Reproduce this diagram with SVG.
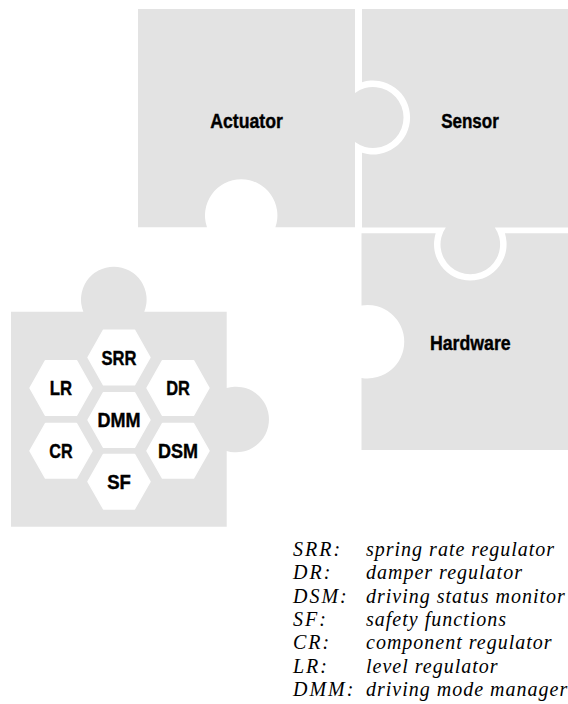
<svg xmlns="http://www.w3.org/2000/svg" width="568" height="704" viewBox="0 0 568 704">
  <defs>
    <style>
      .piece { fill: #e3e3e3; }
      .hex { fill: #ffffff; stroke: #ffffff; stroke-width: 1.5; stroke-linejoin: round; }
      .plabel { font-family: "Liberation Sans", Arial, sans-serif; font-weight: bold; font-size: 21px; fill: #000; stroke: #000; stroke-width: 0.4; text-anchor: middle; }
      .hlabel { font-family: "Liberation Sans", Arial, sans-serif; font-weight: bold; font-size: 20px; fill: #000; stroke: #000; stroke-width: 0.4; text-anchor: middle; }
      .legend { font-family: "Liberation Serif", "Times New Roman", serif; font-style: italic; font-size: 20px; fill: #000; }
      .abbr { letter-spacing: 2px; }
      .desc { letter-spacing: 1px; }
    </style>
    <polygon id="hexshape" points="-31,0 -15.5,-27.3 15.5,-27.3 31,0 15.5,27.3 -15.5,27.3"/>
  </defs>
  <rect width="568" height="704" fill="#ffffff"/>

  <g id="actuator">
    <path class="piece" d="M138,9 H355 V92.9 A30.5,30.5 0 1 1 355,142.1 V227.3 H275.4 A36.2,36.2 0 1 0 207,227.3 H138 Z"/>
    <text class="plabel" x="246.5" y="128.3" textLength="72.7" lengthAdjust="spacingAndGlyphs">Actuator</text>
  </g>
  <g id="sensor">
    <path class="piece" d="M362,9 H568 V227.5 H494.8 A29.8,29.8 0 1 1 445.8,227.5 H362 V152.8 A37,37 0 1 0 362,82.2 Z"/>
    <text class="plabel" x="470" y="128.3" textLength="57.7" lengthAdjust="spacingAndGlyphs">Sensor</text>
  </g>
  <g id="hardware">
    <path class="piece" d="M361.5,233.3 H435.7 A36.3,36.3 0 1 0 504.9,233.3 H568 V450 H361.5 V377.9 A36.7,36.7 0 1 0 361.5,305.5 Z"/>
    <text class="plabel" x="470.3" y="350" textLength="80.7" lengthAdjust="spacingAndGlyphs">Hardware</text>
  </g>
  <g id="software">
    <path class="piece" d="M11,311.7 H83.35 A32.8,32.8 0 1 1 144.25,311.7 H226.7 V388.1 A32.8,32.8 0 1 1 226.7,450.9 V526.7 H11 Z"/>
  </g>

  <g id="srr"><use href="#hexshape" class="hex" x="119" y="357.5"/><text class="hlabel" x="119" y="364.7" textLength="35" lengthAdjust="spacingAndGlyphs">SRR</text></g>
  <g id="lr"><use href="#hexshape" class="hex" x="61" y="388"/><text class="hlabel" x="61" y="395.2" textLength="22.3" lengthAdjust="spacingAndGlyphs">LR</text></g>
  <g id="dr"><use href="#hexshape" class="hex" x="178" y="388"/><text class="hlabel" x="178" y="395.2" textLength="23.7" lengthAdjust="spacingAndGlyphs">DR</text></g>
  <g id="dmm"><use href="#hexshape" class="hex" x="119" y="420"/><text class="hlabel" x="119" y="427.2" textLength="43" lengthAdjust="spacingAndGlyphs">DMM</text></g>
  <g id="cr"><use href="#hexshape" class="hex" x="61" y="450.8"/><text class="hlabel" x="61" y="458" textLength="23.3" lengthAdjust="spacingAndGlyphs">CR</text></g>
  <g id="dsm"><use href="#hexshape" class="hex" x="178" y="450.8"/><text class="hlabel" x="178" y="458" textLength="40" lengthAdjust="spacingAndGlyphs">DSM</text></g>
  <g id="sf"><use href="#hexshape" class="hex" x="119" y="481.7"/><text class="hlabel" x="119" y="488.9" textLength="23.7" lengthAdjust="spacingAndGlyphs">SF</text></g>

  <g id="connectors"/>

  <g id="legend" class="legend">
    <text class="abbr" x="293" y="556">SRR:</text><text class="desc" x="366" y="556">spring rate regulator</text>
    <text class="abbr" x="293" y="579.3">DR:</text><text class="desc" x="366" y="579.3">damper regulator</text>
    <text class="abbr" x="293" y="602.7">DSM:</text><text class="desc" x="366" y="602.7">driving status monitor</text>
    <text class="abbr" x="293" y="626">SF:</text><text class="desc" x="366" y="626">safety functions</text>
    <text class="abbr" x="293" y="649.3">CR:</text><text class="desc" x="366" y="649.3">component regulator</text>
    <text class="abbr" x="293" y="672.7">LR:</text><text class="desc" x="366" y="672.7">level regulator</text>
    <text class="abbr" x="293" y="696">DMM:</text><text class="desc" x="366" y="696">driving mode manager</text>
  </g>
</svg>
